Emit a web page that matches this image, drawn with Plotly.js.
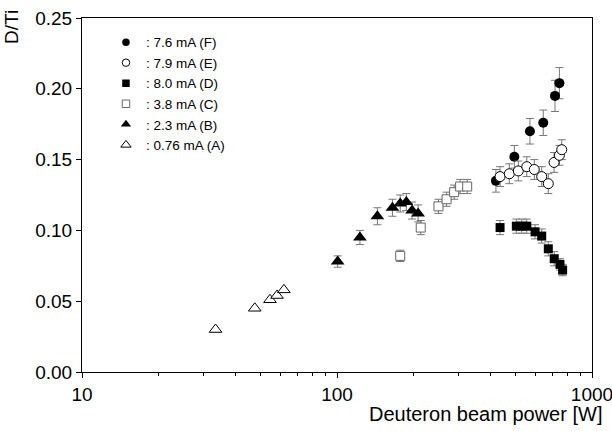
<!DOCTYPE html>
<html>
<head>
<meta charset="utf-8">
<script src="https://cdn.plot.ly/plotly-3.0.1.min.js"></script>
<style>html,body{margin:0;padding:0;background:#fff;}#chart{width:612px;height:431px;}</style>
</head>
<body>
<div id="chart"></div>
<script>
// Deuteron beam power [W] and D/Ti ratio, per beam current series
const F_power = [420, 496, 571, 644, 716, 745];
const F_ratio = [0.135, 0.152, 0.170, 0.176, 0.195, 0.204];
const F_err   = [0.008, 0.008, 0.009, 0.009, 0.011, 0.011];

const E_power = [436, 474, 514, 555, 594, 635, 674, 710, 745, 761];
const E_ratio = [0.138, 0.140, 0.142, 0.145, 0.143, 0.138, 0.133, 0.148, 0.153, 0.157];
const E_err   = [0.007, 0.007, 0.007, 0.007, 0.007, 0.007, 0.007, 0.007, 0.007, 0.007];

const D_power = [436, 505, 530, 555, 598, 635, 674, 711, 749, 767];
const D_ratio = [0.102, 0.103, 0.103, 0.103, 0.099, 0.096, 0.087, 0.080, 0.076, 0.072];
const D_err   = [0.005, 0.005, 0.005, 0.005, 0.005, 0.005, 0.005, 0.005, 0.004, 0.004];

const C_power = [177, 213, 250, 269, 288, 304, 324];
const C_ratio = [0.082, 0.102, 0.117, 0.122, 0.127, 0.131, 0.131];
const C_err   = [0.004, 0.005, 0.005, 0.005, 0.005, 0.005, 0.005];

const B_power = [100.6, 123, 144, 165, 177, 187, 197, 208];
const B_ratio = [0.078, 0.095, 0.110, 0.116, 0.119, 0.120, 0.114, 0.112];
const B_err   = [0.004, 0.005, 0.006, 0.006, 0.006, 0.006, 0.006, 0.006];

const A_power = [33.4, 47.6, 54.6, 58.2, 61.9];
const A_ratio = [0.030, 0.045, 0.051, 0.054, 0.058];

const seriesNames = [': 7.6 mA (F)', ': 7.9 mA (E)', ': 8.0 mA (D)', ': 3.8 mA (C)', ': 2.3 mA (B)', ': 0.76 mA (A)'];
const xTickVals = [10, 100, 1000];
const xTickText = ['10', '100', '1000'];
const yTickVals = [0, 0.05, 0.10, 0.15, 0.20, 0.25];

const errStyle = (arr) => ({type: 'data', array: arr, visible: true, color: '#777', thickness: 1, width: 4});

const styles = [
  {symbol: 'circle', size: 10, color: '#000'},
  {symbol: 'circle', size: 10, color: '#fff', line: {color: '#000', width: 1}},
  {symbol: 'square', size: 9, color: '#000'},
  {symbol: 'square', size: 9, color: '#fff', line: {color: '#666', width: 1}},
  {symbol: 'triangle-up', size: 12, color: '#000'},
  {symbol: 'triangle-up', size: 11, color: '#fff', line: {color: '#000', width: 1}}
];
const xs = [F_power, E_power, D_power, C_power, B_power, A_power];
const ys = [F_ratio, E_ratio, D_ratio, C_ratio, B_ratio, A_ratio];
const errs = [F_err, E_err, D_err, C_err, B_err, null];

const traces = [];
for (let i = 0; i < 6; i++) {
  const t = {x: xs[i], y: ys[i], name: seriesNames[i], mode: 'markers', type: 'scatter',
             showlegend: false, legendgroup: 'g' + i, marker: styles[i]};
  if (errs[i]) t.error_y = errStyle(errs[i]);
  traces.push(t);
}
// legend entries with smaller symbols, as in the reference legend
for (let i = 0; i < 6; i++) {
  const m = Object.assign({}, styles[i], {size: i >= 4 ? 9 : 7.5});
  traces.push({x: [null], y: [null], name: seriesNames[i], mode: 'markers', type: 'scatter',
               showlegend: true, legendgroup: 'g' + i, marker: m});
}

const font = 'Liberation Sans, Arial, sans-serif';
const layout = {
  width: 612, height: 431,
  margin: {l: 82, r: 20, t: 18, b: 59},
  paper_bgcolor: '#fff', plot_bgcolor: '#fff',
  font: {family: font, color: '#000', size: 18},
  showlegend: true,
  legend: {x: 0.047, y: 0.975, xanchor: 'left', yanchor: 'top', bgcolor: 'rgba(0,0,0,0)',
           font: {family: font, size: 13.5, color: '#000'}, tracegroupgap: 0, itemwidth: 30,
           traceorder: 'normal'},
  xaxis: {
    type: 'log', range: [1, 3],
    tickvals: xTickVals, ticktext: xTickText, ticklabeloverflow: 'allow',
    ticks: 'outside', ticklen: 5, tickwidth: 1, tickcolor: '#000',
    minor: {ticks: 'outside', ticklen: 3, tickwidth: 1, tickcolor: '#000', dtick: 'D1', showgrid: false},
    showline: true, linecolor: '#000', linewidth: 1, mirror: true,
    showgrid: false, zeroline: false,
    tickfont: {family: font, size: 19, color: '#000'}
  },
  yaxis: {
    range: [0, 0.25],
    tickvals: yTickVals, tickformat: '.2f', ticklabeloverflow: 'allow',
    ticks: 'outside', ticklen: 5, tickwidth: 1, tickcolor: '#000',
    showline: true, linecolor: '#000', linewidth: 1, mirror: true,
    showgrid: false, zeroline: false,
    tickfont: {family: font, size: 19, color: '#000'}
  },
  annotations: [
    {text: 'Deuteron beam power [W]', xref: 'paper', yref: 'paper', x: 1.023, y: -0.12,
     xanchor: 'right', yanchor: 'middle', showarrow: false, font: {family: font, size: 20, color: '#000'}},
    {text: 'D/Ti', xref: 'paper', yref: 'paper', x: -0.137, y: 0.975,
     xanchor: 'center', yanchor: 'middle', textangle: -90, showarrow: false, font: {family: font, size: 19, color: '#000'}}
  ]
};

Plotly.newPlot('chart', traces, layout, {displayModeBar: false, staticPlot: true});
</script>
</body>
</html>
